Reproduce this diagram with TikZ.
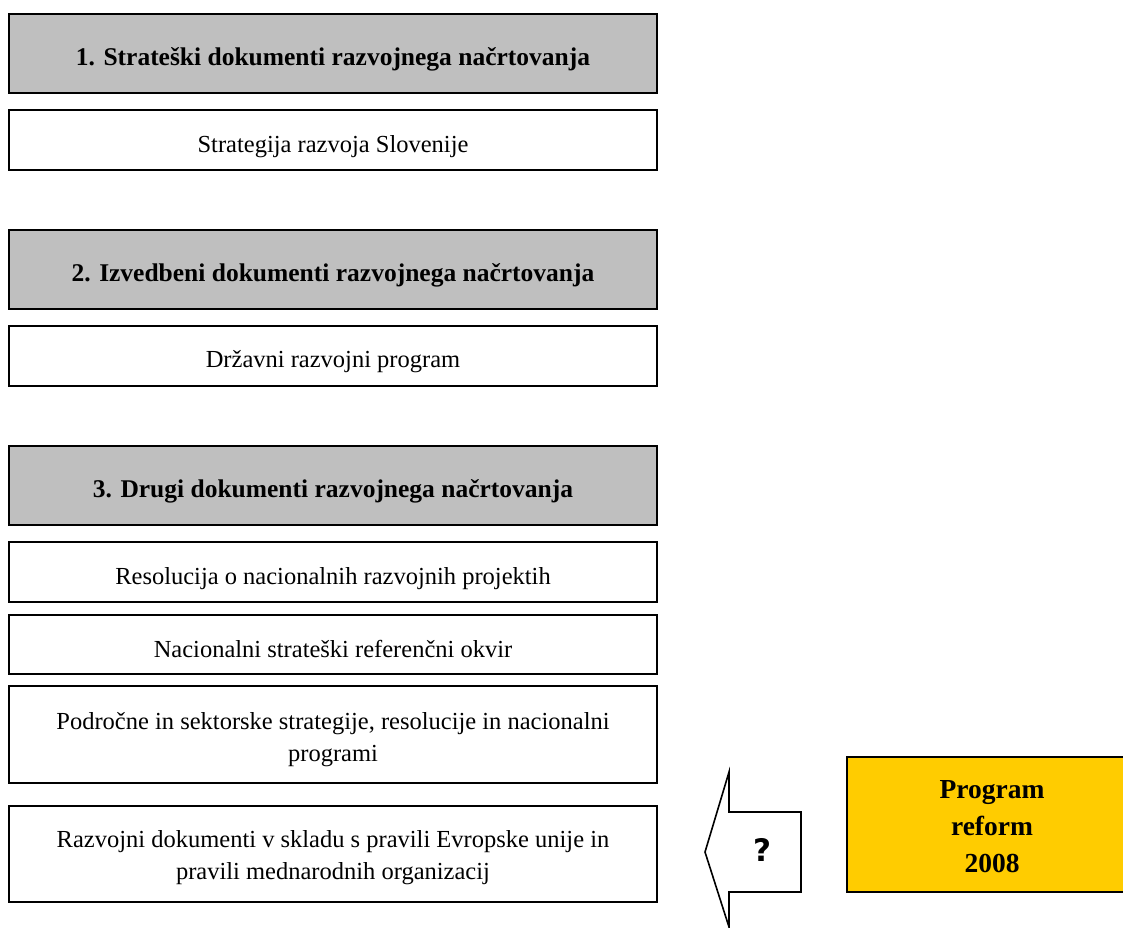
\documentclass[tikz,border=0pt]{standalone}
\usepackage{fontspec}
\setmainfont{Liberation Serif}
\newfontfamily\qfont{DejaVu Sans}
\begin{document}
\begin{tikzpicture}[x=1pt,y=-1pt,
  box/.style={draw=black,line width=1.4pt},
  head/.style={box,fill=black!25},
  txt/.style={font=\fontsize{24.5}{32}\selectfont,align=center,inner sep=0pt},
  htxt/.style={txt,font=\fontsize{25.5}{32}\selectfont\bfseries}]
\useasboundingbox (0,0) rectangle (1123,927);
\fill[white] (0,0) rectangle (1123,927);
% headers
\draw[head] (9,14) rectangle (657,93);
\node[htxt] (h1) at (333,59) {1. Strateški dokumenti razvojnega načrtovanja};
\draw[box] (9,110) rectangle (657,170);
\node[txt] (b1) at (333,147) {Strategija razvoja Slovenije};
\draw[head] (9,230) rectangle (657,309);
\node[htxt] (h2) at (333,275) {2. Izvedbeni dokumenti razvojnega načrtovanja};
\draw[box] (9,326) rectangle (657,386);
\node[txt] (b2) at (333,362) {Državni razvojni program};
\draw[head] (9,446) rectangle (657,525);
\node[htxt] (h3) at (333,491) {3. Drugi dokumenti razvojnega načrtovanja};
\draw[box] (9,542) rectangle (657,602);
\node[txt] (b3) at (333,579) {Resolucija o nacionalnih razvojnih projektih};
\draw[box] (9,615) rectangle (657,674);
\node[txt] (b4) at (333,649) {Nacionalni strateški referenčni okvir};
\draw[box] (9,686) rectangle (657,783);
\node[txt] (b5) at (333,740) {Področne in sektorske strategije, resolucije in nacionalni\\programi};
\draw[box] (9,806) rectangle (657,902);
\node[txt] (b6) at (333,858) {Razvojni dokumenti v skladu s pravili Evropske unije in\\pravili mednarodnih organizacij};
% arrow
\draw[line width=1.6pt,fill=white] (705,852) -- (729,772) -- (729,812) -- (801,812) -- (801,892) -- (729,892) -- (729,927) -- cycle;
\node[inner sep=0pt,font=\qfont\fontsize{31}{33}\selectfont\bfseries] (q) at (762,850) {?};
% yellow box
\draw[line width=1.6pt,fill={rgb,255:red,255;green,204;blue,0}] (847,757) rectangle (1135,892);
\node[htxt,font=\fontsize{27.5}{37}\selectfont\bfseries] (p) at (992,827) {Program\\reform\\2008};
\end{tikzpicture}
\end{document}
